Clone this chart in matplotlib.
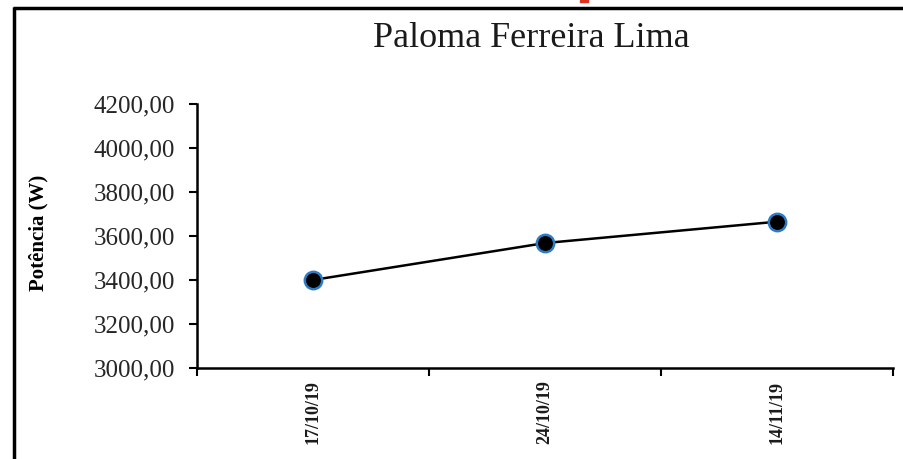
import matplotlib
matplotlib.use("Agg")
import matplotlib.pyplot as plt
from matplotlib.lines import Line2D
from matplotlib.patches import Rectangle

dates = ["17/10/19", "24/10/19", "14/11/19"]
potencia = [3400.0, 3568.0, 3665.0]
yticks = [3000, 3200, 3400, 3600, 3800, 4000, 4200]
title = "Paloma Ferreira Lima"
ylabel = "Potência (W)"

plt.rcParams['font.family'] = ['Liberation Serif', 'DejaVu Serif']

W, H = 904, 459
fig = plt.figure(figsize=(W / 100, H / 100), dpi=100)
ax = fig.add_axes([197 / W, 1 - 368 / H, (893 - 197) / W, (368 - 104) / H])

x = list(range(len(dates)))
ax.plot(x, potencia, color="black", lw=1.8, marker="o", markersize=12.5,
        markerfacecolor="black", markeredgecolor="#2E7BC4", markeredgewidth=1.8,
        clip_on=False, zorder=3)

ax.set_xlim(-0.5, len(dates) - 0.5)
ax.set_ylim(3000, 4200)
ax.set_yticks(yticks)
ax.set_yticklabels([f"{v:.2f}".replace(".", ",") for v in yticks], fontsize=18,
                   color="#262626")
ax.set_xticks([i - 0.5 for i in range(len(dates) + 1)])
ax.set_xticklabels([])
ax.set_xticks(x, minor=True)
ax.set_xticklabels(dates, minor=True, rotation=90, fontsize=13, fontweight="bold",
                   color="#1a1a1a")
ax.tick_params(axis="x", which="minor", length=0, pad=9)
ax.tick_params(axis="x", which="major", length=6, width=1.5, direction="out")
ax.tick_params(axis="y", length=6, width=1.5, direction="out", pad=10)

for s in ["top", "right"]:
    ax.spines[s].set_visible(False)
for s in ["left", "bottom"]:
    ax.spines[s].set_linewidth(1.8)

fig.text(531 / W, 1 - 47 / H, title, fontsize=26, ha="center", va="baseline",
         color="#1a1a1a")
fig.text(38 / W, 1 - 233 / H, ylabel, fontsize=15, fontweight="bold",
         rotation=90, ha="center", va="center")

# outer frame (top and left)
fig.add_artist(Line2D([13 / W, 1.0], [1 - 8 / H, 1 - 8 / H], color="black", lw=2.5,
                      solid_capstyle="butt", transform=fig.transFigure))
fig.add_artist(Line2D([14.5 / W, 14.5 / W], [1 - 7 / H, 0], color="black", lw=2.5,
                      solid_capstyle="butt", transform=fig.transFigure))
fig.add_artist(Rectangle((580 / W, 1 - 2 / H), 8 / W, 2 / H, color="#E03020",
                         transform=fig.transFigure))

fig.savefig("out.png", dpi=100)
